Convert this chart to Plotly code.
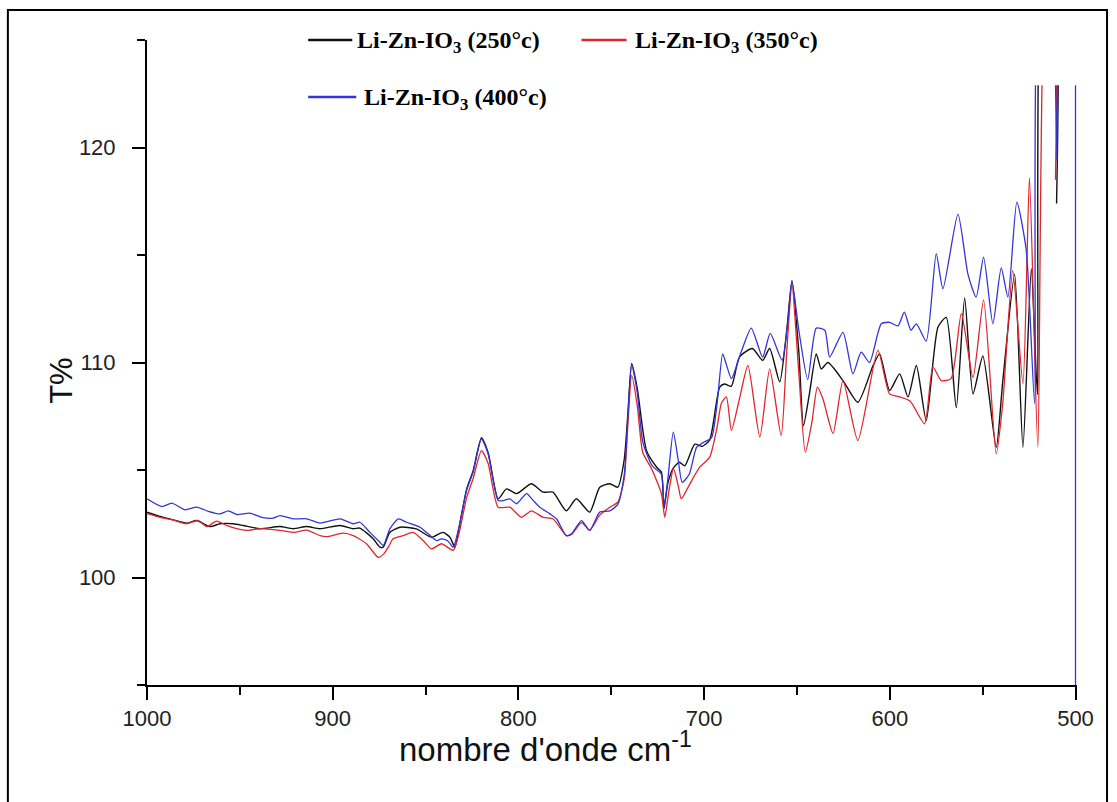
import plotly.graph_objects as go

# ---------------- data ----------------
wn_250 = [1000, 993, 985.9, 978.6, 973.3, 966, 960.7, 953.6, 948.2, 939.2, 928.4, 921.3, 914, 906.9,
          896.1, 889, 885.4, 878.2, 874.6, 872.8, 869.2, 863.8, 854.9, 846.8, 840.6, 836.9, 834.2,
          832.4, 827.9, 824.4, 819.9, 816.3, 810.9, 806.4, 801, 793, 786.7, 781.4, 774.2, 768.8,
          761.6, 756.2, 750.8, 746.5, 743, 741, 739, 736, 731, 725.5, 723, 721.6, 719.5, 716.5,
          713.3, 710.4, 705, 701, 697, 691.6, 689, 685.3, 681, 674, 668.5, 664.7, 659.3, 655.5,
          652.7, 649, 646.5, 643.2, 639.6, 636.9, 633.3, 625.2, 617.2, 609, 605.5, 600.1, 594.7,
          590.2, 585.7, 580.4, 574.1, 569.6, 564.2, 559.7, 555.2, 549.9, 542.7, 539.2, 532.8,
          528.3, 523.8, 520.5, 516.5, 512, 510.2]
t_250 = [103.04, 102.84, 102.68, 102.53, 102.65, 102.37, 102.5, 102.5, 102.42, 102.27, 102.37, 102.27,
         102.37, 102.27, 102.42, 102.27, 102.3, 101.8, 101.41, 101.41, 102.1, 102.34, 102.26, 101.87,
         102.1, 101.87, 101.41, 102.1, 104.1, 104.95, 106.5, 105.8, 103.66, 104.12, 103.9, 104.36,
         103.97, 103.97, 103.1, 103.66, 103.04, 104.2, 104.36, 104.2, 105.5, 107.7, 109.95, 108.8,
         105.9, 105.13, 104.9, 103.2, 104.4, 105.1, 105.36, 105.2, 106.2, 106.1, 106.4, 108.85,
         109.0, 108.9, 110.25, 110.65, 110.1, 110.65, 109.1, 111.5, 113.8, 110.5, 107.07, 108.6,
         110.4, 109.7, 110.0, 109.16, 108.15, 109.86, 110.4, 108.7, 109.47, 108.4, 109.86, 107.3,
         111.64, 112.1, 107.9, 113.0, 108.54, 110.3, 106.06, 109.1, 114.1, 106.06, 114.36, 108.5,
         130.0, 130.0, 117.4]

wn_350 = [1000, 993, 986, 979, 972.4, 967.9, 962.5, 957.1, 951.7, 946.4, 939, 928.4, 921, 914, 906.9,
          903.3, 894.3, 889, 881.8, 875.5, 872.5, 869.5, 867.5, 862, 856.7, 851.3, 846.8, 841.4,
          835.1, 832.4, 827.9, 824.4, 819.9, 816.3, 810.9, 804.6, 798.4, 793, 786.7, 781.4, 774.2,
          771.4, 766, 761.6, 756.2, 750.8, 746.5, 743, 741, 739, 736, 733, 728.5, 723, 721.2, 719,
          716.5, 714, 712.3, 708, 702.4, 697, 693, 690.7, 688, 685.3, 681, 676.4, 670, 664.7, 658.5,
          655.5, 652.7, 649, 645.5, 642, 639, 636, 630.6, 625.2, 617.2, 606.4, 600.1, 594.7, 589,
          581.3, 576.8, 572.3, 567, 561.5, 555.2, 549.5, 542.7, 539.2, 533.8, 528.3, 524.8, 520.3,
          514.5, 512, 510.8]
t_350 = [102.97, 102.8, 102.68, 102.5, 102.65, 102.37, 102.62, 102.42, 102.27, 102.19, 102.27, 102.19,
         102.1, 102.2, 101.95, 101.9, 102.06, 101.95, 101.57, 100.94, 101.1, 101.5, 101.8, 101.95,
         102.1, 101.72, 101.33, 101.57, 101.26, 101.9, 103.7, 104.6, 105.9, 105.3, 103.27, 103.27,
         102.8, 103.1, 102.8, 102.73, 101.95, 102.0, 102.55, 102.2, 102.9, 103.27, 103.5, 104.6,
         107.2, 109.4, 108.0, 105.8, 105.1, 103.9, 102.8, 104.0, 105.07, 104.3, 103.66, 104.3,
         105.13, 105.6, 107.0, 108.1, 108.4, 106.84, 108.3, 109.86, 106.53, 109.7, 106.6, 110.5,
         113.6, 109.5, 105.83, 107.2, 108.85, 108.3, 106.7, 109.16, 106.37, 110.56, 108.54, 108.4,
         108.2, 107.15, 109.8, 109.16, 109.25, 112.27, 109.3, 112.9, 105.75, 108.08, 114.28, 109.0,
         118.6, 106.06, 130.0, 130.0, 118.5]

wn_400 = [1000, 992, 986.7, 979.5, 973.3, 967, 960.7, 956.2, 951.7, 944.6, 938.3, 932, 928.4, 921.3,
          914, 906.9, 896.1, 893.4, 889, 885.4, 880, 874.6, 872.8, 869.2, 864.7, 860.2, 853, 848.6,
          844, 841.4, 838, 835.1, 832.4, 827.9, 824.4, 819.9, 816.3, 810.9, 808.2, 804.6, 801,
          795.6, 792, 788.5, 783, 779.5, 774.2, 771.4, 766, 761.6, 756.2, 750.8, 746.5, 743, 741,
          739, 736, 733, 728, 723, 721.6, 719.5, 716.6, 714, 711.8, 708, 704, 700, 696, 693, 690,
          688, 685.3, 680, 674.6, 668.5, 664.4, 658, 655, 652.7, 649, 644.2, 639.6, 635, 632.4,
          625.2, 619.9, 615.4, 610.9, 604.6, 600.1, 595.6, 592.2, 588.6, 585.7, 580.4, 575, 571.4,
          563.3, 557.9, 553.5, 549.5, 544.5, 540, 536.4, 531.6, 526.5, 522, 517.6, 512, 510,
          508.5, 500, 500, 500]
t_400 = [103.66, 103.3, 103.46, 103.15, 103.27, 103.08, 102.96, 103.1, 102.93, 102.99, 102.8, 102.76,
         102.88, 102.73, 102.73, 102.53, 102.73, 102.65, 102.5, 102.57, 102.1, 101.64, 101.49,
         102.26, 102.73, 102.57, 102.34, 102.03, 101.72, 101.8, 101.7, 101.41, 102.19, 104.05,
         104.9, 106.45, 105.75, 103.58, 103.58, 103.66, 103.43, 103.9, 103.58, 103.27, 102.96,
         102.73, 101.95, 102.03, 102.65, 102.19, 103.04, 103.1, 103.4, 104.8, 107.5, 109.9, 108.6,
         106.3, 105.2, 104.8, 103.3, 104.6, 106.76, 105.5, 104.43, 104.8, 106.06, 106.3, 106.5,
         108.1, 110.4, 109.9, 109.25, 110.5, 111.6, 110.25, 111.35, 110.1, 111.8, 113.8, 111.5,
         109.2, 111.6, 111.5, 110.25, 111.4, 109.47, 110.48, 110.0, 111.8, 111.87, 111.7, 112.34,
         111.5, 111.8, 111.0, 115.06, 113.43, 116.9, 114.1, 113.04, 114.9, 111.8, 114.4, 113.04,
         117.46, 115.2, 108.08, 130.0, 130.0, 119.4, 130.0, 130.0, 129.0, 95.0]

series_names = ["Li-Zn-IO<sub>3</sub> (250°c)", "Li-Zn-IO<sub>3</sub> (350°c)", "Li-Zn-IO<sub>3</sub> (400°c)"]
series_colors = ["#111111", "#e0262b", "#3434d8"]

x_ticks = [1000, 900, 800, 700, 600, 500]
y_ticks = [100, 110, 120]

# ---------------- figure ----------------
fig = go.Figure()
for wn, t, name, col, w in [(wn_250, t_250, series_names[0], series_colors[0], 1.4),
                            (wn_350, t_350, series_names[1], series_colors[1], 1.3),
                            (wn_400, t_400, series_names[2], series_colors[2], 1.3)]:
    fig.add_trace(go.Scatter(x=wn, y=t, mode="lines", name=name, showlegend=False,
                             line=dict(color=col, width=w, shape="spline", smoothing=0.6,
                                       simplify=False)))

# curves are cut off at the top of the data window in the original
fig.add_shape(type="rect", xref="x", yref="y", x0=530, x1=498, y0=122.9, y1=126,
              fillcolor="white", line=dict(width=0), layer="above")

# outer frame
fig.add_shape(type="rect", xref="paper", yref="paper", x0=-0.1496, x1=1.0323, y0=-0.19, y1=1.0465,
              line=dict(color="black", width=2), fillcolor="rgba(0,0,0,0)", layer="above")

# manual legend
leg = [(0.1733, 0.2207, 1.0, 0.2239, 0), (0.4672, 0.5156, 1.0, 0.5231, 1), (0.1733, 0.2250, 0.9116, 0.2314, 2)]
for x0, x1, yv, xt, i in leg:
    fig.add_shape(type="line", xref="paper", yref="paper", x0=x0, x1=x1, y0=yv, y1=yv,
                  line=dict(color=series_colors[i], width=2.5))
    fig.add_annotation(xref="paper", yref="paper", x=xt, y=yv - 0.003, xanchor="left", yanchor="middle",
                       text="<b>" + series_names[i] + "</b>", showarrow=False,
                       font=dict(family="Liberation Serif, Times New Roman, serif", size=24, color="black"))

# axis titles
fig.add_annotation(xref="paper", yref="paper", x=0.4284, y=-0.096, xanchor="center", yanchor="middle",
                   text="nombre d'onde cm<sup>-1</sup>", showarrow=False,
                   font=dict(family="Liberation Sans, Arial, sans-serif", size=33, color="#111111"))
fig.add_annotation(xref="paper", yref="paper", x=-0.0915, y=0.473, xanchor="center", yanchor="middle",
                   text="T%", textangle=-90, showarrow=False,
                   font=dict(family="Liberation Sans, Arial, sans-serif", size=31, color="#111111"))

axis_font = dict(family="Liberation Sans, Arial, sans-serif", size=22, color="#222222")
fig.update_xaxes(range=[1000, 499.2], tickvals=x_ticks, ticktext=[str(v) for v in x_ticks],
                 ticks="outside", ticklen=13, tickwidth=2, tickcolor="black",
                 minor=dict(dtick=50, ticks="outside", ticklen=8, tickwidth=2, tickcolor="black", showgrid=False),
                 showline=True, linecolor="black", linewidth=2, showgrid=False, zeroline=False,
                 tickfont=axis_font)
fig.update_yaxes(range=[95, 125], tickvals=y_ticks, ticktext=[str(v) for v in y_ticks],
                 ticks="outside", ticklen=13, tickwidth=2, tickcolor="black", ticklabelstandoff=12,
                 minor=dict(dtick=5, tick0=95, ticks="outside", ticklen=8, tickwidth=2, tickcolor="black", showgrid=False),
                 showline=True, linecolor="black", linewidth=2, showgrid=False, zeroline=False,
                 tickfont=axis_font)

fig.update_layout(width=1117, height=802, margin=dict(l=147, r=40, t=40, b=117),
                  paper_bgcolor="white", plot_bgcolor="white", showlegend=False)

fig.write_html("out.html")
